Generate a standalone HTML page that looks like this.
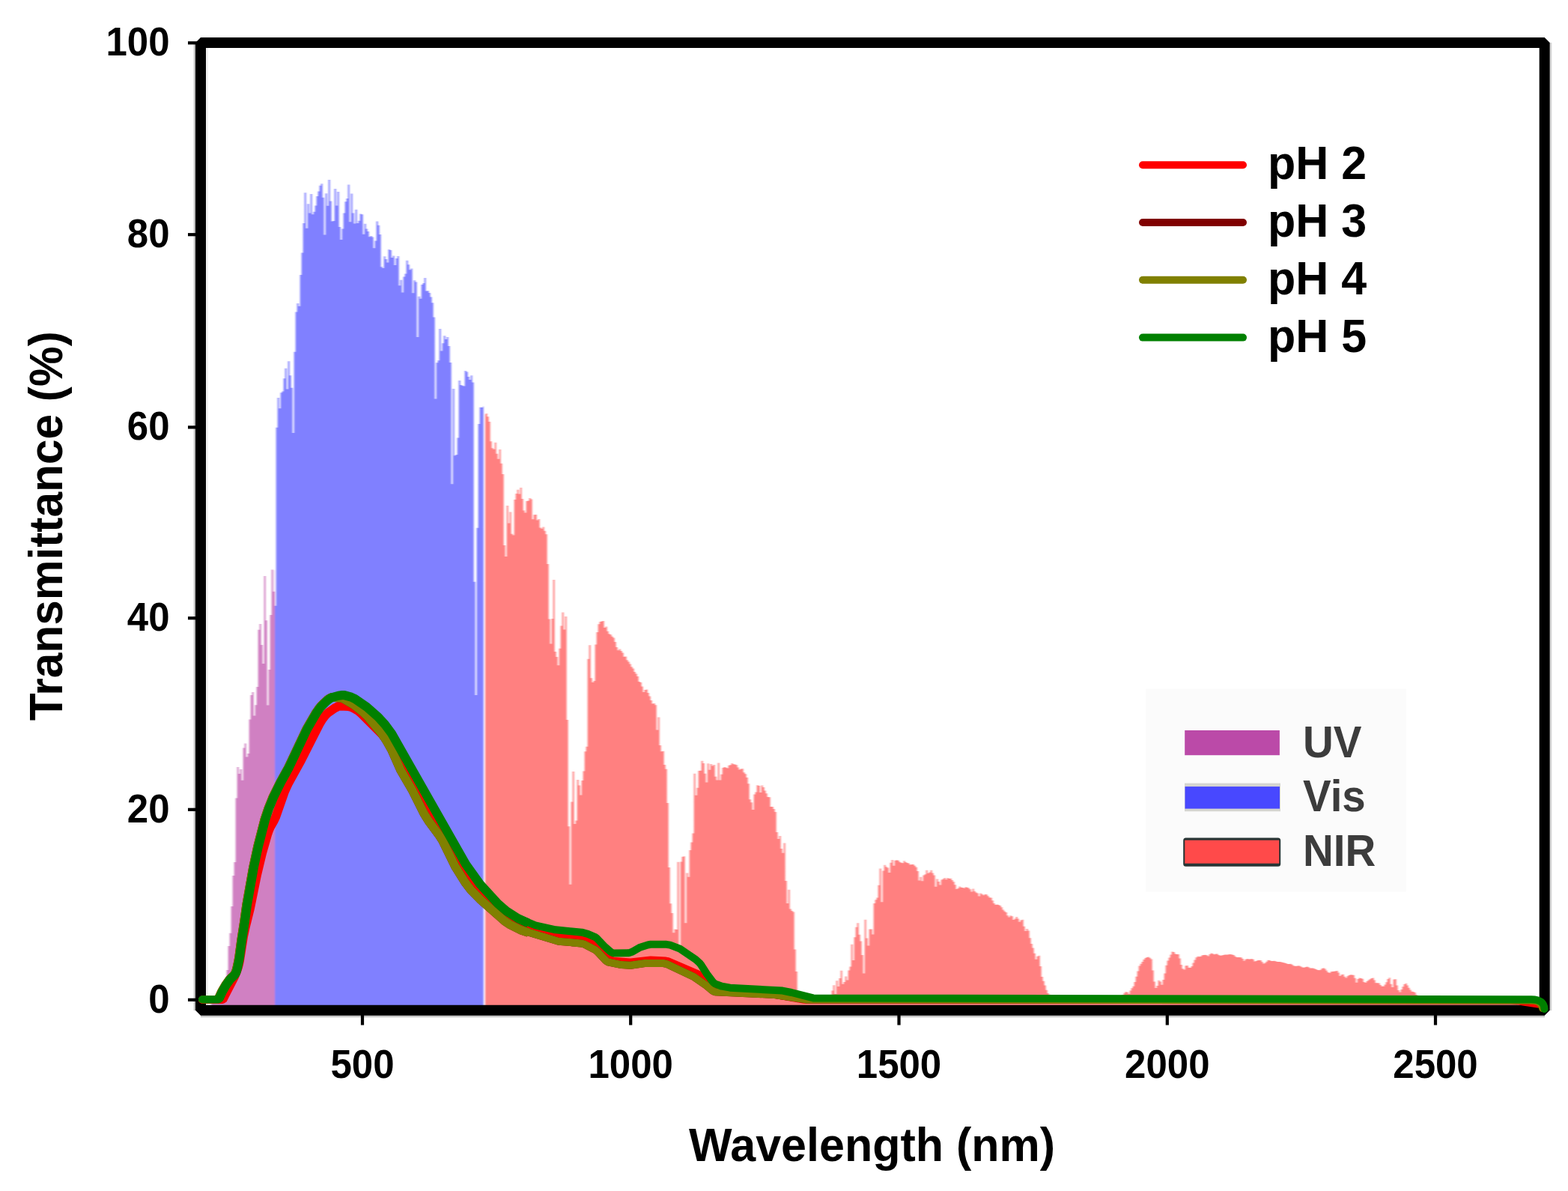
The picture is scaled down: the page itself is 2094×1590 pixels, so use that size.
<!DOCTYPE html>
<html><head><meta charset="utf-8"><title>Transmittance</title>
<style>
html,body{margin:0;padding:0;background:#fff;}
body{width:2094px;height:1590px;overflow:hidden;}
svg{display:block;}
text{font-family:"Liberation Sans",Arial,Helvetica,sans-serif;font-weight:bold;fill:#000;}
.t{font-size:51px;}
.ax{font-size:61px;}
.lg{font-size:61px;}
.lg2{font-size:56.5px;fill:#3c3c3c;}
</style></head>
<body>
<svg width="2094" height="1590" viewBox="0 0 2094 1590">
<defs><filter id="sb" x="-2%" y="-2%" width="104%" height="104%"><feGaussianBlur stdDeviation="0.9 0.5"/></filter></defs>
<g filter="url(#sb)">
<path d="M282.2 1342.0L282.20 1335.0L282.67 1335.0L282.67 1335.0L284.67 1335.0L284.67 1335.0L286.67 1335.0L286.67 1335.0L288.67 1335.0L288.67 1335.0L290.67 1335.0L290.67 1335.0L292.67 1335.0L292.67 1334.9L294.67 1334.9L294.67 1334.5L296.67 1334.5L296.67 1332.9L298.67 1332.9L298.67 1324.9L300.67 1324.9L300.67 1310.9L302.67 1310.9L302.67 1294.9L304.67 1294.9L304.67 1262.9L306.67 1262.9L306.67 1245.7L308.67 1245.7L308.67 1210.0L310.67 1210.0L310.67 1168.9L312.67 1168.9L312.67 1151.1L314.67 1151.1L314.67 1065.4L316.67 1065.4L316.67 1024.1L318.67 1024.1L318.67 1033.1L320.67 1033.1L320.67 1027.1L322.67 1027.1L322.67 1041.7L324.67 1041.7L324.67 998.4L326.67 998.4L326.67 992.5L328.67 992.5L328.67 1010.4L330.67 1010.4L330.67 1005.9L332.67 1005.9L332.67 960.5L334.67 960.5L334.67 928.1L336.67 928.1L336.67 924.1L338.67 924.1L338.67 955.4L340.67 955.4L340.67 941.3L342.67 941.3L342.67 916.9L344.67 916.9L344.67 840.7L346.67 840.7L346.67 833.1L348.67 833.1L348.67 860.9L350.67 860.9L350.67 886.0L352.67 886.0L352.67 769.1L354.67 769.1L354.67 828.3L356.67 828.3L356.67 941.5L358.67 941.5L358.67 894.1L360.67 894.1L360.67 821.1L362.67 821.1L362.67 760.6L364.67 760.6L364.67 789.7L366.67 789.7L366.67 761.2L367.00 761.2L367.0 1342.0Z" fill="#d080c2"/>
<path d="M367.0 1342.0L367.00 808.7L368.67 808.7L368.67 570.8L370.67 570.8L370.67 530.9L372.67 530.9L372.67 545.2L374.67 545.2L374.67 524.2L376.67 524.2L376.67 522.5L378.67 522.5L378.67 505.2L380.67 505.2L380.67 491.7L382.67 491.7L382.67 519.4L384.67 519.4L384.67 482.2L386.67 482.2L386.67 501.2L388.67 501.2L388.67 517.7L390.67 517.7L390.67 578.0L392.67 578.0L392.67 469.8L394.67 469.8L394.67 416.4L396.67 416.4L396.67 404.9L398.67 404.9L398.67 408.8L400.67 408.8L400.67 367.0L402.67 367.0L402.67 337.4L404.67 337.4L404.67 298.0L406.67 298.0L406.67 257.3L408.67 257.3L408.67 304.8L410.67 304.8L410.67 272.3L412.67 272.3L412.67 284.6L414.67 284.6L414.67 259.1L416.67 259.1L416.67 286.3L418.67 286.3L418.67 282.8L420.67 282.8L420.67 274.4L422.67 274.4L422.67 261.9L424.67 261.9L424.67 255.4L426.67 255.4L426.67 247.7L428.67 247.7L428.67 245.3L430.67 245.3L430.67 263.8L432.67 263.8L432.67 313.6L434.67 313.6L434.67 258.2L436.67 258.2L436.67 274.7L438.67 274.7L438.67 239.9L440.67 239.9L440.67 268.5L442.67 268.5L442.67 295.6L444.67 295.6L444.67 295.0L446.67 295.0L446.67 252.0L448.67 252.0L448.67 274.5L450.67 274.5L450.67 256.0L452.67 256.0L452.67 303.0L454.67 303.0L454.67 320.0L456.67 320.0L456.67 305.5L458.67 305.5L458.67 284.6L460.67 284.6L460.67 269.3L462.67 269.3L462.67 264.9L464.67 264.9L464.67 246.5L466.67 246.5L466.67 296.2L468.67 296.2L468.67 258.6L470.67 258.6L470.67 284.6L472.67 284.6L472.67 298.6L474.67 298.6L474.67 279.8L476.67 279.8L476.67 298.0L478.67 298.0L478.67 294.8L480.67 294.8L480.67 285.4L482.67 285.4L482.67 286.2L484.67 286.2L484.67 312.8L486.67 312.8L486.67 298.8L488.67 298.8L488.67 305.4L490.67 305.4L490.67 308.9L492.67 308.9L492.67 316.3L494.67 316.3L494.67 315.0L496.67 315.0L496.67 316.5L498.67 316.5L498.67 331.3L500.67 331.3L500.67 321.5L502.67 321.5L502.67 295.5L504.67 295.5L504.67 300.7L506.67 300.7L506.67 312.9L508.67 312.9L508.67 356.3L510.67 356.3L510.67 358.0L512.67 358.0L512.67 342.2L514.67 342.2L514.67 346.0L516.67 346.0L516.67 350.6L518.67 350.6L518.67 333.0L520.67 333.0L520.67 333.9L522.67 333.9L522.67 344.1L524.67 344.1L524.67 341.4L526.67 341.4L526.67 353.9L528.67 353.9L528.67 344.9L530.67 344.9L530.67 342.0L532.67 342.0L532.67 381.2L534.67 381.2L534.67 373.8L536.67 373.8L536.67 390.4L538.67 390.4L538.67 369.6L540.67 369.6L540.67 365.6L542.67 365.6L542.67 347.8L544.67 347.8L544.67 353.3L546.67 353.3L546.67 360.2L548.67 360.2L548.67 358.6L550.67 358.6L550.67 391.3L552.67 391.3L552.67 374.3L554.67 374.3L554.67 376.6L556.67 376.6L556.67 450.1L558.67 450.1L558.67 395.7L560.67 395.7L560.67 398.7L562.67 398.7L562.67 380.1L564.67 380.1L564.67 378.0L566.67 378.0L566.67 370.9L568.67 370.9L568.67 388.4L570.67 388.4L570.67 388.2L572.67 388.2L572.67 391.1L574.67 391.1L574.67 396.4L576.67 396.4L576.67 404.2L578.67 404.2L578.67 423.4L580.67 423.4L580.67 532.4L582.67 532.4L582.67 484.2L584.67 484.2L584.67 481.3L586.67 481.3L586.67 439.0L588.67 439.0L588.67 468.6L590.67 468.6L590.67 458.3L592.67 458.3L592.67 448.3L594.67 448.3L594.67 453.0L596.67 453.0L596.67 450.1L598.67 450.1L598.67 461.9L600.67 461.9L600.67 484.1L602.67 484.1L602.67 646.2L604.67 646.2L604.67 518.9L606.67 518.9L606.67 608.2L608.67 608.2L608.67 606.9L610.67 606.9L610.67 584.5L612.67 584.5L612.67 508.1L614.67 508.1L614.67 514.1L616.67 514.1L616.67 514.8L618.67 514.8L618.67 515.4L620.67 515.4L620.67 495.0L622.67 495.0L622.67 496.5L624.67 496.5L624.67 503.0L626.67 503.0L626.67 506.9L628.67 506.9L628.67 501.2L630.67 501.2L630.67 510.5L632.67 510.5L632.67 776.8L634.67 776.8L634.67 928.1L636.67 928.1L636.67 704.8L638.67 704.8L638.67 565.9L640.67 565.9L640.67 543.7L642.67 543.7L642.67 543.9L644.67 543.9L644.67 542.5L645.70 542.5L645.7 1342.0Z" fill="#8080ff"/>
<path d="M648.0 1342.0L648.00 553.3L648.67 553.3L648.67 552.1L650.67 552.1L650.67 556.2L652.67 556.2L652.67 562.9L654.67 562.9L654.67 589.2L656.67 589.2L656.67 598.2L658.67 598.2L658.67 599.8L660.67 599.8L660.67 590.8L662.67 590.8L662.67 605.8L664.67 605.8L664.67 612.8L666.67 612.8L666.67 600.1L668.67 600.1L668.67 618.7L670.67 618.7L670.67 633.0L672.67 633.0L672.67 728.1L674.67 728.1L674.67 743.0L676.67 743.0L676.67 674.9L678.67 674.9L678.67 698.4L680.67 698.4L680.67 683.5L682.67 683.5L682.67 712.8L684.67 712.8L684.67 714.6L686.67 714.6L686.67 667.0L688.67 667.0L688.67 659.1L690.67 659.1L690.67 653.7L692.67 653.7L692.67 659.5L694.67 659.5L694.67 651.0L696.67 651.0L696.67 666.0L698.67 666.0L698.67 681.4L700.67 681.4L700.67 684.6L702.67 684.6L702.67 669.0L704.67 669.0L704.67 668.4L706.67 668.4L706.67 664.9L708.67 664.9L708.67 666.4L710.67 666.4L710.67 693.2L712.67 693.2L712.67 687.2L714.67 687.2L714.67 686.9L716.67 686.9L716.67 694.5L718.67 694.5L718.67 693.0L720.67 693.0L720.67 704.4L722.67 704.4L722.67 705.7L724.67 705.7L724.67 703.6L726.67 703.6L726.67 708.7L728.67 708.7L728.67 713.3L730.67 713.3L730.67 753.0L732.67 753.0L732.67 826.5L734.67 826.5L734.67 859.4L736.67 859.4L736.67 826.0L738.67 826.0L738.67 774.0L740.67 774.0L740.67 869.9L742.67 869.9L742.67 877.1L744.67 877.1L744.67 888.2L746.67 888.2L746.67 865.8L748.67 865.8L748.67 835.5L750.67 835.5L750.67 817.5L752.67 817.5L752.67 840.6L754.67 840.6L754.67 823.0L756.67 823.0L756.67 960.9L758.67 960.9L758.67 1103.2L760.67 1103.2L760.67 1180.8L762.67 1180.8L762.67 1070.6L764.67 1070.6L764.67 1029.9L766.67 1029.9L766.67 1100.0L768.67 1100.0L768.67 1095.5L770.67 1095.5L770.67 1041.0L772.67 1041.0L772.67 1048.5L774.67 1048.5L774.67 1061.6L776.67 1061.6L776.67 1042.0L778.67 1042.0L778.67 1029.4L780.67 1029.4L780.67 1003.2L782.67 1003.2L782.67 996.8L784.67 996.8L784.67 879.8L786.67 879.8L786.67 861.2L788.67 861.2L788.67 905.3L790.67 905.3L790.67 910.9L792.67 910.9L792.67 909.0L794.67 909.0L794.67 860.6L796.67 860.6L796.67 844.0L798.67 844.0L798.67 833.2L800.67 833.2L800.67 829.9L802.67 829.9L802.67 829.5L804.67 829.5L804.67 829.0L806.67 829.0L806.67 838.0L808.67 838.0L808.67 836.4L810.67 836.4L810.67 842.7L812.67 842.7L812.67 846.3L814.67 846.3L814.67 847.2L816.67 847.2L816.67 849.8L818.67 849.8L818.67 851.4L820.67 851.4L820.67 857.1L822.67 857.1L822.67 864.1L824.67 864.1L824.67 868.2L826.67 868.2L826.67 866.5L828.67 866.5L828.67 868.9L830.67 868.9L830.67 871.5L832.67 871.5L832.67 876.7L834.67 876.7L834.67 876.6L836.67 876.6L836.67 881.2L838.67 881.2L838.67 883.5L840.67 883.5L840.67 886.4L842.67 886.4L842.67 890.3L844.67 890.3L844.67 892.6L846.67 892.6L846.67 897.0L848.67 897.0L848.67 899.5L850.67 899.5L850.67 903.1L852.67 903.1L852.67 909.9L854.67 909.9L854.67 910.9L856.67 910.9L856.67 916.5L858.67 916.5L858.67 923.9L860.67 923.9L860.67 921.0L862.67 921.0L862.67 920.5L864.67 920.5L864.67 925.1L866.67 925.1L866.67 929.6L868.67 929.6L868.67 934.9L870.67 934.9L870.67 939.5L872.67 939.5L872.67 939.0L874.67 939.0L874.67 941.3L876.67 941.3L876.67 974.4L878.67 974.4L878.67 957.4L880.67 957.4L880.67 994.9L882.67 994.9L882.67 1003.3L884.67 1003.3L884.67 1002.8L886.67 1002.8L886.67 1021.0L888.67 1021.0L888.67 1026.8L890.67 1026.8L890.67 1072.1L892.67 1072.1L892.67 1158.0L894.67 1158.0L894.67 1206.3L896.67 1206.3L896.67 1219.1L898.67 1219.1L898.67 1245.3L900.67 1245.3L900.67 1240.4L902.67 1240.4L902.67 1240.9L904.67 1240.9L904.67 1150.7L906.67 1150.7L906.67 1265.4L908.67 1265.4L908.67 1150.4L910.67 1150.4L910.67 1143.8L912.67 1143.8L912.67 1143.2L914.67 1143.2L914.67 1232.2L916.67 1232.2L916.67 1165.6L918.67 1165.6L918.67 1170.8L920.67 1170.8L920.67 1135.1L922.67 1135.1L922.67 1124.4L924.67 1124.4L924.67 1112.5L926.67 1112.5L926.67 1032.7L928.67 1032.7L928.67 1061.8L930.67 1061.8L930.67 1051.7L932.67 1051.7L932.67 1029.0L934.67 1029.0L934.67 1028.8L936.67 1028.8L936.67 1015.7L938.67 1015.7L938.67 1019.0L940.67 1019.0L940.67 1032.8L942.67 1032.8L942.67 1044.5L944.67 1044.5L944.67 1019.2L946.67 1019.2L946.67 1027.8L948.67 1027.8L948.67 1020.0L950.67 1020.0L950.67 1022.5L952.67 1022.5L952.67 1020.9L954.67 1020.9L954.67 1036.7L956.67 1036.7L956.67 1041.6L958.67 1041.6L958.67 1018.6L960.67 1018.6L960.67 1041.5L962.67 1041.5L962.67 1033.8L964.67 1033.8L964.67 1025.1L966.67 1025.1L966.67 1024.0L968.67 1024.0L968.67 1024.7L970.67 1024.7L970.67 1025.4L972.67 1025.4L972.67 1021.8L974.67 1021.8L974.67 1021.2L976.67 1021.2L976.67 1018.9L978.67 1018.9L978.67 1020.2L980.67 1020.2L980.67 1020.5L982.67 1020.5L982.67 1021.2L984.67 1021.2L984.67 1024.4L986.67 1024.4L986.67 1027.5L988.67 1027.5L988.67 1026.6L990.67 1026.6L990.67 1026.3L992.67 1026.3L992.67 1031.3L994.67 1031.3L994.67 1033.3L996.67 1033.3L996.67 1037.9L998.67 1037.9L998.67 1046.2L1000.67 1046.2L1000.67 1067.2L1002.67 1067.2L1002.67 1071.2L1004.67 1071.2L1004.67 1080.9L1006.67 1080.9L1006.67 1060.4L1008.67 1060.4L1008.67 1057.4L1010.67 1057.4L1010.67 1048.3L1012.67 1048.3L1012.67 1049.1L1014.67 1049.1L1014.67 1057.9L1016.67 1057.9L1016.67 1048.5L1018.67 1048.5L1018.67 1051.1L1020.67 1051.1L1020.67 1055.4L1022.67 1055.4L1022.67 1059.3L1024.67 1059.3L1024.67 1064.1L1026.67 1064.1L1026.67 1064.2L1028.67 1064.2L1028.67 1077.1L1030.67 1077.1L1030.67 1077.0L1032.67 1077.0L1032.67 1080.0L1034.67 1080.0L1034.67 1084.1L1036.67 1084.1L1036.67 1110.9L1038.67 1110.9L1038.67 1119.9L1040.67 1119.9L1040.67 1115.9L1042.67 1115.9L1042.67 1132.9L1044.67 1132.9L1044.67 1138.7L1046.67 1138.7L1046.67 1125.4L1048.67 1125.4L1048.67 1175.9L1050.67 1175.9L1050.67 1206.1L1052.67 1206.1L1052.67 1187.7L1054.67 1187.7L1054.67 1213.4L1056.67 1213.4L1056.67 1216.1L1058.67 1216.1L1058.67 1217.4L1060.67 1217.4L1060.67 1267.5L1062.67 1267.5L1062.67 1297.0L1064.67 1297.0L1064.67 1324.2L1066.67 1324.2L1066.67 1334.5L1068.67 1334.5L1068.67 1335.0L1070.67 1335.0L1070.67 1335.0L1072.67 1335.0L1072.67 1335.0L1074.67 1335.0L1074.67 1335.0L1076.67 1335.0L1076.67 1335.0L1078.67 1335.0L1078.67 1335.0L1080.67 1335.0L1080.67 1334.9L1082.67 1334.9L1082.67 1334.8L1084.67 1334.8L1084.67 1334.4L1086.67 1334.4L1086.67 1335.0L1088.67 1335.0L1088.67 1335.0L1090.67 1335.0L1090.67 1334.9L1092.67 1334.9L1092.67 1334.6L1094.67 1334.6L1094.67 1334.7L1096.67 1334.7L1096.67 1334.9L1098.67 1334.9L1098.67 1334.2L1100.67 1334.2L1100.67 1334.5L1102.67 1334.5L1102.67 1333.5L1104.67 1333.5L1104.67 1333.9L1106.67 1333.9L1106.67 1334.1L1108.67 1334.1L1108.67 1333.3L1110.67 1333.3L1110.67 1322.5L1112.67 1322.5L1112.67 1315.3L1114.67 1315.3L1114.67 1326.9L1116.67 1326.9L1116.67 1309.2L1118.67 1309.2L1118.67 1317.0L1120.67 1317.0L1120.67 1305.9L1122.67 1305.9L1122.67 1295.8L1124.67 1295.8L1124.67 1313.8L1126.67 1313.8L1126.67 1310.9L1128.67 1310.9L1128.67 1303.4L1130.67 1303.4L1130.67 1308.4L1132.67 1308.4L1132.67 1295.6L1134.67 1295.6L1134.67 1290.4L1136.67 1290.4L1136.67 1260.8L1138.67 1260.8L1138.67 1281.9L1140.67 1281.9L1140.67 1251.3L1142.67 1251.3L1142.67 1237.7L1144.67 1237.7L1144.67 1232.3L1146.67 1232.3L1146.67 1247.7L1148.67 1247.7L1148.67 1256.5L1150.67 1256.5L1150.67 1275.0L1152.67 1275.0L1152.67 1299.5L1154.67 1299.5L1154.67 1227.8L1156.67 1227.8L1156.67 1252.4L1158.67 1252.4L1158.67 1262.6L1160.67 1262.6L1160.67 1240.5L1162.67 1240.5L1162.67 1240.6L1164.67 1240.6L1164.67 1247.4L1166.67 1247.4L1166.67 1206.1L1168.67 1206.1L1168.67 1201.2L1170.67 1201.2L1170.67 1198.4L1172.67 1198.4L1172.67 1181.7L1174.67 1181.7L1174.67 1159.6L1176.67 1159.6L1176.67 1204.2L1178.67 1204.2L1178.67 1162.6L1180.67 1162.6L1180.67 1154.8L1182.67 1154.8L1182.67 1157.3L1184.67 1157.3L1184.67 1158.6L1186.67 1158.6L1186.67 1165.1L1188.67 1165.1L1188.67 1151.8L1190.67 1151.8L1190.67 1147.9L1192.67 1147.9L1192.67 1155.7L1194.67 1155.7L1194.67 1148.7L1196.67 1148.7L1196.67 1148.2L1198.67 1148.2L1198.67 1148.7L1200.67 1148.7L1200.67 1150.8L1202.67 1150.8L1202.67 1151.8L1204.67 1151.8L1204.67 1152.2L1206.67 1152.2L1206.67 1149.3L1208.67 1149.3L1208.67 1151.0L1210.67 1151.0L1210.67 1152.0L1212.67 1152.0L1212.67 1152.4L1214.67 1152.4L1214.67 1154.6L1216.67 1154.6L1216.67 1153.9L1218.67 1153.9L1218.67 1154.0L1220.67 1154.0L1220.67 1155.7L1222.67 1155.7L1222.67 1157.8L1224.67 1157.8L1224.67 1163.0L1226.67 1163.0L1226.67 1175.6L1228.67 1175.6L1228.67 1170.8L1230.67 1170.8L1230.67 1176.3L1232.67 1176.3L1232.67 1168.6L1234.67 1168.6L1234.67 1167.3L1236.67 1167.3L1236.67 1161.8L1238.67 1161.8L1238.67 1165.8L1240.67 1165.8L1240.67 1164.5L1242.67 1164.5L1242.67 1161.7L1244.67 1161.7L1244.67 1165.4L1246.67 1165.4L1246.67 1168.5L1248.67 1168.5L1248.67 1183.8L1250.67 1183.8L1250.67 1173.6L1252.67 1173.6L1252.67 1176.9L1254.67 1176.9L1254.67 1181.6L1256.67 1181.6L1256.67 1174.6L1258.67 1174.6L1258.67 1173.6L1260.67 1173.6L1260.67 1171.9L1262.67 1171.9L1262.67 1174.3L1264.67 1174.3L1264.67 1172.0L1266.67 1172.0L1266.67 1172.9L1268.67 1172.9L1268.67 1172.8L1270.67 1172.8L1270.67 1175.0L1272.67 1175.0L1272.67 1177.2L1274.67 1177.2L1274.67 1181.3L1276.67 1181.3L1276.67 1187.1L1278.67 1187.1L1278.67 1185.7L1280.67 1185.7L1280.67 1183.6L1282.67 1183.6L1282.67 1184.8L1284.67 1184.8L1284.67 1184.9L1286.67 1184.9L1286.67 1185.7L1288.67 1185.7L1288.67 1184.3L1290.67 1184.3L1290.67 1184.7L1292.67 1184.7L1292.67 1185.6L1294.67 1185.6L1294.67 1187.3L1296.67 1187.3L1296.67 1190.5L1298.67 1190.5L1298.67 1186.6L1300.67 1186.6L1300.67 1189.8L1302.67 1189.8L1302.67 1191.6L1304.67 1191.6L1304.67 1192.6L1306.67 1192.6L1306.67 1196.5L1308.67 1196.5L1308.67 1192.4L1310.67 1192.4L1310.67 1193.7L1312.67 1193.7L1312.67 1195.2L1314.67 1195.2L1314.67 1193.7L1316.67 1193.7L1316.67 1194.2L1318.67 1194.2L1318.67 1196.2L1320.67 1196.2L1320.67 1198.3L1322.67 1198.3L1322.67 1198.5L1324.67 1198.5L1324.67 1202.3L1326.67 1202.3L1326.67 1205.9L1328.67 1205.9L1328.67 1208.1L1330.67 1208.1L1330.67 1207.6L1332.67 1207.6L1332.67 1207.9L1334.67 1207.9L1334.67 1208.9L1336.67 1208.9L1336.67 1211.2L1338.67 1211.2L1338.67 1214.5L1340.67 1214.5L1340.67 1216.4L1342.67 1216.4L1342.67 1217.9L1344.67 1217.9L1344.67 1222.2L1346.67 1222.2L1346.67 1224.6L1348.67 1224.6L1348.67 1222.2L1350.67 1222.2L1350.67 1223.2L1352.67 1223.2L1352.67 1228.1L1354.67 1228.1L1354.67 1226.5L1356.67 1226.5L1356.67 1224.0L1358.67 1224.0L1358.67 1226.4L1360.67 1226.4L1360.67 1230.8L1362.67 1230.8L1362.67 1228.4L1364.67 1228.4L1364.67 1227.8L1366.67 1227.8L1366.67 1236.7L1368.67 1236.7L1368.67 1243.1L1370.67 1243.1L1370.67 1240.1L1372.67 1240.1L1372.67 1242.4L1374.67 1242.4L1374.67 1252.3L1376.67 1252.3L1376.67 1260.1L1378.67 1260.1L1378.67 1265.4L1380.67 1265.4L1380.67 1272.7L1382.67 1272.7L1382.67 1280.8L1384.67 1280.8L1384.67 1276.8L1386.67 1276.8L1386.67 1275.8L1388.67 1275.8L1388.67 1289.9L1390.67 1289.9L1390.67 1304.1L1392.67 1304.1L1392.67 1309.7L1394.67 1309.7L1394.67 1315.4L1396.67 1315.4L1396.67 1321.7L1398.67 1321.7L1398.67 1325.9L1400.67 1325.9L1400.67 1327.8L1402.67 1327.8L1402.67 1330.0L1404.67 1330.0L1404.67 1332.3L1406.67 1332.3L1406.67 1333.5L1408.67 1333.5L1408.67 1334.3L1410.67 1334.3L1410.67 1334.2L1412.67 1334.2L1412.67 1334.2L1414.67 1334.2L1414.67 1334.7L1416.67 1334.7L1416.67 1335.0L1418.67 1335.0L1418.67 1335.0L1420.67 1335.0L1420.67 1335.0L1422.67 1335.0L1422.67 1335.0L1424.67 1335.0L1424.67 1335.0L1426.67 1335.0L1426.67 1335.0L1428.67 1335.0L1428.67 1335.0L1430.67 1335.0L1430.67 1335.0L1432.67 1335.0L1432.67 1335.0L1434.67 1335.0L1434.67 1335.0L1436.67 1335.0L1436.67 1335.0L1438.67 1335.0L1438.67 1335.0L1440.67 1335.0L1440.67 1335.0L1442.67 1335.0L1442.67 1335.0L1444.67 1335.0L1444.67 1335.0L1446.67 1335.0L1446.67 1335.0L1448.67 1335.0L1448.67 1335.0L1450.67 1335.0L1450.67 1335.0L1452.67 1335.0L1452.67 1334.9L1454.67 1334.9L1454.67 1335.0L1456.67 1335.0L1456.67 1334.9L1458.67 1334.9L1458.67 1334.9L1460.67 1334.9L1460.67 1334.9L1462.67 1334.9L1462.67 1334.9L1464.67 1334.9L1464.67 1334.9L1466.67 1334.9L1466.67 1335.0L1468.67 1335.0L1468.67 1335.0L1470.67 1335.0L1470.67 1335.0L1472.67 1335.0L1472.67 1335.0L1474.67 1335.0L1474.67 1335.0L1476.67 1335.0L1476.67 1335.0L1478.67 1335.0L1478.67 1334.8L1480.67 1334.8L1480.67 1334.7L1482.67 1334.7L1482.67 1334.5L1484.67 1334.5L1484.67 1334.4L1486.67 1334.4L1486.67 1334.5L1488.67 1334.5L1488.67 1334.1L1490.67 1334.1L1490.67 1333.0L1492.67 1333.0L1492.67 1332.6L1494.67 1332.6L1494.67 1332.7L1496.67 1332.7L1496.67 1330.6L1498.67 1330.6L1498.67 1327.9L1500.67 1327.9L1500.67 1325.7L1502.67 1325.7L1502.67 1323.9L1504.67 1323.9L1504.67 1324.8L1506.67 1324.8L1506.67 1326.9L1508.67 1326.9L1508.67 1322.6L1510.67 1322.6L1510.67 1319.2L1512.67 1319.2L1512.67 1316.7L1514.67 1316.7L1514.67 1311.1L1516.67 1311.1L1516.67 1303.7L1518.67 1303.7L1518.67 1296.6L1520.67 1296.6L1520.67 1289.6L1522.67 1289.6L1522.67 1286.7L1524.67 1286.7L1524.67 1283.9L1526.67 1283.9L1526.67 1281.1L1528.67 1281.1L1528.67 1278.9L1530.67 1278.9L1530.67 1278.0L1532.67 1278.0L1532.67 1277.6L1534.67 1277.6L1534.67 1278.7L1536.67 1278.7L1536.67 1280.4L1538.67 1280.4L1538.67 1295.5L1540.67 1295.5L1540.67 1310.4L1542.67 1310.4L1542.67 1318.9L1544.67 1318.9L1544.67 1315.9L1546.67 1315.9L1546.67 1308.8L1548.67 1308.8L1548.67 1310.5L1550.67 1310.5L1550.67 1314.7L1552.67 1314.7L1552.67 1308.1L1554.67 1308.1L1554.67 1299.4L1556.67 1299.4L1556.67 1288.7L1558.67 1288.7L1558.67 1282.6L1560.67 1282.6L1560.67 1278.6L1562.67 1278.6L1562.67 1274.4L1564.67 1274.4L1564.67 1270.5L1566.67 1270.5L1566.67 1271.0L1568.67 1271.0L1568.67 1273.4L1570.67 1273.4L1570.67 1274.1L1572.67 1274.1L1572.67 1273.9L1574.67 1273.9L1574.67 1279.4L1576.67 1279.4L1576.67 1287.9L1578.67 1287.9L1578.67 1293.3L1580.67 1293.3L1580.67 1294.4L1582.67 1294.4L1582.67 1289.2L1584.67 1289.2L1584.67 1289.0L1586.67 1289.0L1586.67 1291.7L1588.67 1291.7L1588.67 1292.0L1590.67 1292.0L1590.67 1289.9L1592.67 1289.9L1592.67 1285.6L1594.67 1285.6L1594.67 1281.6L1596.67 1281.6L1596.67 1278.2L1598.67 1278.2L1598.67 1276.7L1600.67 1276.7L1600.67 1277.2L1602.67 1277.2L1602.67 1276.7L1604.67 1276.7L1604.67 1275.3L1606.67 1275.3L1606.67 1274.9L1608.67 1274.9L1608.67 1274.7L1610.67 1274.7L1610.67 1275.2L1612.67 1275.2L1612.67 1276.4L1614.67 1276.4L1614.67 1273.9L1616.67 1273.9L1616.67 1272.5L1618.67 1272.5L1618.67 1273.3L1620.67 1273.3L1620.67 1274.3L1622.67 1274.3L1622.67 1273.6L1624.67 1273.6L1624.67 1273.5L1626.67 1273.5L1626.67 1275.0L1628.67 1275.0L1628.67 1275.8L1630.67 1275.8L1630.67 1275.4L1632.67 1275.4L1632.67 1275.0L1634.67 1275.0L1634.67 1274.6L1636.67 1274.6L1636.67 1274.5L1638.67 1274.5L1638.67 1274.4L1640.67 1274.4L1640.67 1274.1L1642.67 1274.1L1642.67 1274.0L1644.67 1274.0L1644.67 1274.4L1646.67 1274.4L1646.67 1275.0L1648.67 1275.0L1648.67 1276.8L1650.67 1276.8L1650.67 1278.1L1652.67 1278.1L1652.67 1278.0L1654.67 1278.0L1654.67 1278.1L1656.67 1278.1L1656.67 1278.3L1658.67 1278.3L1658.67 1280.1L1660.67 1280.1L1660.67 1282.7L1662.67 1282.7L1662.67 1280.7L1664.67 1280.7L1664.67 1280.0L1666.67 1280.0L1666.67 1280.4L1668.67 1280.4L1668.67 1280.5L1670.67 1280.5L1670.67 1280.1L1672.67 1280.1L1672.67 1280.7L1674.67 1280.7L1674.67 1283.4L1676.67 1283.4L1676.67 1283.0L1678.67 1283.0L1678.67 1281.9L1680.67 1281.9L1680.67 1281.9L1682.67 1281.9L1682.67 1281.9L1684.67 1281.9L1684.67 1284.2L1686.67 1284.2L1686.67 1286.5L1688.67 1286.5L1688.67 1285.4L1690.67 1285.4L1690.67 1283.7L1692.67 1283.7L1692.67 1281.8L1694.67 1281.8L1694.67 1282.0L1696.67 1282.0L1696.67 1283.1L1698.67 1283.1L1698.67 1283.1L1700.67 1283.1L1700.67 1282.8L1702.67 1282.8L1702.67 1283.3L1704.67 1283.3L1704.67 1284.1L1706.67 1284.1L1706.67 1284.1L1708.67 1284.1L1708.67 1284.1L1710.67 1284.1L1710.67 1284.6L1712.67 1284.6L1712.67 1285.1L1714.67 1285.1L1714.67 1285.6L1716.67 1285.6L1716.67 1286.1L1718.67 1286.1L1718.67 1287.0L1720.67 1287.0L1720.67 1286.9L1722.67 1286.9L1722.67 1286.7L1724.67 1286.7L1724.67 1287.7L1726.67 1287.7L1726.67 1289.2L1728.67 1289.2L1728.67 1289.7L1730.67 1289.7L1730.67 1289.7L1732.67 1289.7L1732.67 1289.3L1734.67 1289.3L1734.67 1289.4L1736.67 1289.4L1736.67 1290.6L1738.67 1290.6L1738.67 1291.5L1740.67 1291.5L1740.67 1291.8L1742.67 1291.8L1742.67 1291.0L1744.67 1291.0L1744.67 1290.5L1746.67 1290.5L1746.67 1291.3L1748.67 1291.3L1748.67 1292.4L1750.67 1292.4L1750.67 1292.5L1752.67 1292.5L1752.67 1292.5L1754.67 1292.5L1754.67 1293.3L1756.67 1293.3L1756.67 1294.0L1758.67 1294.0L1758.67 1294.9L1760.67 1294.9L1760.67 1295.3L1762.67 1295.3L1762.67 1294.8L1764.67 1294.8L1764.67 1293.1L1766.67 1293.1L1766.67 1292.2L1768.67 1292.2L1768.67 1293.6L1770.67 1293.6L1770.67 1295.7L1772.67 1295.7L1772.67 1297.9L1774.67 1297.9L1774.67 1298.9L1776.67 1298.9L1776.67 1297.3L1778.67 1297.3L1778.67 1297.0L1780.67 1297.0L1780.67 1296.8L1782.67 1296.8L1782.67 1296.4L1784.67 1296.4L1784.67 1296.1L1786.67 1296.1L1786.67 1298.6L1788.67 1298.6L1788.67 1303.0L1790.67 1303.0L1790.67 1301.3L1792.67 1301.3L1792.67 1300.7L1794.67 1300.7L1794.67 1303.7L1796.67 1303.7L1796.67 1305.4L1798.67 1305.4L1798.67 1303.2L1800.67 1303.2L1800.67 1302.1L1802.67 1302.1L1802.67 1301.3L1804.67 1301.3L1804.67 1301.4L1806.67 1301.4L1806.67 1301.7L1808.67 1301.7L1808.67 1305.8L1810.67 1305.8L1810.67 1311.8L1812.67 1311.8L1812.67 1307.1L1814.67 1307.1L1814.67 1305.4L1816.67 1305.4L1816.67 1305.9L1818.67 1305.9L1818.67 1306.8L1820.67 1306.8L1820.67 1311.1L1822.67 1311.1L1822.67 1312.0L1824.67 1312.0L1824.67 1309.9L1826.67 1309.9L1826.67 1308.6L1828.67 1308.6L1828.67 1307.3L1830.67 1307.3L1830.67 1306.0L1832.67 1306.0L1832.67 1305.5L1834.67 1305.5L1834.67 1308.4L1836.67 1308.4L1836.67 1312.2L1838.67 1312.2L1838.67 1312.3L1840.67 1312.3L1840.67 1312.6L1842.67 1312.6L1842.67 1315.0L1844.67 1315.0L1844.67 1316.7L1846.67 1316.7L1846.67 1316.7L1848.67 1316.7L1848.67 1314.4L1850.67 1314.4L1850.67 1311.3L1852.67 1311.3L1852.67 1306.9L1854.67 1306.9L1854.67 1305.2L1856.67 1305.2L1856.67 1313.7L1858.67 1313.7L1858.67 1317.9L1860.67 1317.9L1860.67 1307.5L1862.67 1307.5L1862.67 1307.2L1864.67 1307.2L1864.67 1315.4L1866.67 1315.4L1866.67 1321.9L1868.67 1321.9L1868.67 1324.5L1870.67 1324.5L1870.67 1320.9L1872.67 1320.9L1872.67 1317.2L1874.67 1317.2L1874.67 1314.0L1876.67 1314.0L1876.67 1312.8L1878.67 1312.8L1878.67 1315.4L1880.67 1315.4L1880.67 1318.8L1882.67 1318.8L1882.67 1321.5L1884.67 1321.5L1884.67 1323.8L1886.67 1323.8L1886.67 1323.9L1888.67 1323.9L1888.67 1325.0L1890.67 1325.0L1890.67 1328.1L1892.67 1328.1L1892.67 1330.1L1894.67 1330.1L1894.67 1330.9L1896.67 1330.9L1896.67 1331.8L1898.67 1331.8L1898.67 1332.5L1900.67 1332.5L1900.67 1332.8L1902.67 1332.8L1902.67 1331.9L1904.67 1331.9L1904.67 1330.4L1906.67 1330.4L1906.67 1330.7L1908.67 1330.7L1908.67 1332.7L1910.67 1332.7L1910.67 1333.7L1912.67 1333.7L1912.67 1333.5L1914.67 1333.5L1914.67 1333.8L1916.67 1333.8L1916.67 1334.5L1918.67 1334.5L1918.67 1334.7L1920.67 1334.7L1920.67 1334.7L1922.67 1334.7L1922.67 1334.9L1924.67 1334.9L1924.67 1335.0L1926.67 1335.0L1926.67 1335.0L1928.67 1335.0L1928.67 1335.0L1930.67 1335.0L1930.67 1335.0L1932.67 1335.0L1932.67 1335.0L1934.67 1335.0L1934.67 1335.0L1936.67 1335.0L1936.67 1335.0L1938.67 1335.0L1938.67 1335.0L1940.67 1335.0L1940.67 1335.0L1942.67 1335.0L1942.67 1335.0L1944.67 1335.0L1944.67 1335.0L1946.67 1335.0L1946.67 1335.0L1948.67 1335.0L1948.67 1335.0L1950.67 1335.0L1950.67 1335.0L1952.67 1335.0L1952.67 1335.0L1954.67 1335.0L1954.67 1335.0L1956.67 1335.0L1956.67 1335.0L1958.67 1335.0L1958.67 1335.0L1960.67 1335.0L1960.67 1335.0L1962.67 1335.0L1962.67 1335.0L1964.67 1335.0L1964.67 1335.0L1966.67 1335.0L1966.67 1335.0L1968.67 1335.0L1968.67 1335.0L1970.67 1335.0L1970.67 1335.0L1972.67 1335.0L1972.67 1335.0L1974.67 1335.0L1974.67 1335.0L1976.67 1335.0L1976.67 1335.0L1978.67 1335.0L1978.67 1335.0L1980.67 1335.0L1980.67 1335.0L1982.67 1335.0L1982.67 1335.0L1984.67 1335.0L1984.67 1335.0L1986.67 1335.0L1986.67 1335.0L1988.67 1335.0L1988.67 1335.0L1990.67 1335.0L1990.67 1335.0L1992.67 1335.0L1992.67 1335.0L1994.67 1335.0L1994.67 1335.0L1996.67 1335.0L1996.67 1335.0L1998.67 1335.0L1998.67 1335.0L2000.67 1335.0L2000.67 1335.0L2002.67 1335.0L2002.67 1335.0L2004.67 1335.0L2004.67 1335.0L2006.67 1335.0L2006.67 1335.0L2008.67 1335.0L2008.67 1335.0L2010.67 1335.0L2010.67 1335.0L2012.67 1335.0L2012.67 1335.0L2014.67 1335.0L2014.67 1335.0L2016.67 1335.0L2016.67 1335.0L2018.67 1335.0L2018.67 1335.0L2020.67 1335.0L2020.67 1335.0L2022.67 1335.0L2022.67 1335.0L2024.67 1335.0L2024.67 1335.0L2026.67 1335.0L2026.67 1335.0L2027.00 1335.0L2027.0 1342.0Z" fill="#ff8080"/>
</g>
<rect x="258.8" y="57" width="2.4" height="1292" fill="#bdbdbd"/>
<rect x="275" y="64" width="3" height="1278" fill="#efefef"/>
<rect x="2069.7" y="57" width="2.6" height="1292" fill="#d4d4d4"/>
<rect x="268" y="1355.6" width="1795" height="2.6" fill="#c8c8c8"/>
<rect x="268" y="57" width="1794.7" height="1291.7" fill="none" stroke="#000" stroke-width="14" stroke-linejoin="bevel"/>
<rect x="251" y="1332.7" width="12" height="4.2" fill="#000"/>
<text transform="translate(226.5 1351.6) scale(1 1.035)" text-anchor="end" class="t">0</text>
<rect x="251" y="1078.7" width="12" height="4.2" fill="#000"/>
<text transform="translate(226.5 1097.6) scale(1 1.035)" text-anchor="end" class="t">20</text>
<rect x="251" y="823.1" width="12" height="4.2" fill="#000"/>
<text transform="translate(226.5 842.0) scale(1 1.035)" text-anchor="end" class="t">40</text>
<rect x="251" y="568.3" width="12" height="4.2" fill="#000"/>
<text transform="translate(226.5 587.2) scale(1 1.035)" text-anchor="end" class="t">60</text>
<rect x="251" y="311.1" width="12" height="4.2" fill="#000"/>
<text transform="translate(226.5 330.0) scale(1 1.035)" text-anchor="end" class="t">80</text>
<rect x="251" y="55.2" width="12" height="4.2" fill="#000"/>
<text transform="translate(226.5 74.1) scale(1 1.035)" text-anchor="end" class="t">100</text>
<rect x="481.9" y="1352" width="4.2" height="16.5" fill="#000"/>
<text transform="translate(484.0 1438.5) scale(1 1.035)" text-anchor="middle" class="t">500</text>
<rect x="840.1" y="1352" width="4.2" height="16.5" fill="#000"/>
<text transform="translate(842.2 1438.5) scale(1 1.035)" text-anchor="middle" class="t">1000</text>
<rect x="1198.4" y="1352" width="4.2" height="16.5" fill="#000"/>
<text transform="translate(1200.5 1438.5) scale(1 1.035)" text-anchor="middle" class="t">1500</text>
<rect x="1556.7" y="1352" width="4.2" height="16.5" fill="#000"/>
<text transform="translate(1558.8 1438.5) scale(1 1.035)" text-anchor="middle" class="t">2000</text>
<rect x="1914.9" y="1352" width="4.2" height="16.5" fill="#000"/>
<text transform="translate(1917.0 1438.5) scale(1 1.035)" text-anchor="middle" class="t">2500</text>
<path d="M270.0 1335.0 L297.0 1335.0 L298.0 1334.4 L299.0 1332.7 L303.0 1323.0 L312.0 1306.0 L315.0 1299.3 L317.0 1293.9 L319.0 1287.1 L320.0 1282.3 L325.0 1250.6 L328.0 1236.6 L334.0 1212.2 L343.0 1168.0 L350.0 1138.8 L357.0 1114.3 L359.0 1108.5 L361.0 1103.9 L366.0 1095.2 L368.0 1091.0 L380.0 1056.7 L385.0 1045.8 L402.0 1015.1 L427.0 965.8 L430.0 960.8 L434.0 955.6 L438.0 951.6 L447.0 945.3 L451.0 943.3 L454.0 942.4 L465.0 943.0 L468.0 943.6 L473.0 945.8 L479.0 949.4 L483.0 952.9 L511.0 981.1 L521.0 993.0 L524.0 995.8 L527.0 998.2 L529.0 1000.3 L531.0 1003.3 L534.0 1009.3 L542.0 1028.0 L558.0 1054.6 L576.0 1089.4 L596.0 1120.1 L616.0 1157.2 L632.0 1180.9 L641.0 1191.9 L674.0 1222.4 L680.0 1226.8 L697.0 1235.7 L744.0 1249.4 L777.0 1252.2 L783.0 1253.8 L792.0 1257.9 L795.0 1259.7 L797.0 1261.3 L807.0 1273.1 L815.0 1280.5 L817.0 1281.9 L819.0 1282.8 L842.0 1284.5 L869.0 1281.5 L889.0 1282.5 L892.0 1283.2 L934.0 1301.2 L938.0 1303.7 L952.0 1315.6 L955.0 1317.5 L968.0 1323.0 L974.0 1324.6 L1029.0 1326.8 L1074.0 1334.8 L2017.0 1334.9 L2054.0 1340.5" fill="none" stroke="#ff0000" stroke-width="10" stroke-linejoin="round" stroke-linecap="round"/><path d="M297.0 1335.0 L313.0 1303.9 L316.0 1296.7 L318.0 1290.8 L319.0 1287.1 L320.0 1282.3 L325.0 1250.6 L328.0 1236.6 L334.0 1212.2 L343.0 1168.0 L350.0 1138.8 L357.0 1114.3 L359.0 1108.5 L361.0 1103.9 L366.0 1095.2 L368.0 1091.0 L380.0 1056.7 L385.0 1045.8 L402.0 1015.1 L427.0 965.8 L430.0 960.8 L434.0 955.6 L438.0 951.6 L447.0 945.3 L451.0 943.3 L454.0 942.4 L465.0 943.0 L468.0 943.6 L473.0 945.8 L479.0 949.4 L483.0 952.9 L511.0 981.1 L521.0 993.0 L524.0 995.8 L527.0 998.2 L529.0 1000.3 L531.0 1003.3 L534.0 1009.3 L542.0 1028.0 L558.0 1054.6 L576.0 1089.4 L596.0 1120.1 L616.0 1157.2 L632.0 1180.9 L641.0 1191.9 L674.0 1222.4 L680.0 1226.8 L696.0 1235.5 L705.5 1239.0" fill="none" stroke="#ff0000" stroke-width="12" stroke-linejoin="round" stroke-linecap="butt"/>
<path d="M270.0 1334.5 L291.0 1334.5 L292.0 1333.9 L293.0 1332.3 L297.0 1322.1 L298.0 1320.0 L304.0 1310.7 L307.0 1306.8 L311.0 1303.1 L313.0 1300.7 L314.0 1299.0 L315.0 1296.5 L316.0 1292.9 L318.0 1283.6 L319.0 1278.1 L322.0 1255.5 L326.0 1230.0 L329.0 1208.3 L338.0 1157.6 L344.0 1129.9 L353.0 1094.9 L358.0 1079.8 L364.0 1064.9 L374.0 1044.5 L385.0 1024.5 L409.0 973.7 L422.0 951.2 L426.0 945.5 L429.0 942.0 L437.0 934.3 L440.0 932.2 L442.0 931.3 L444.0 931.0 L456.0 932.0 L458.0 932.5 L473.0 941.4 L484.0 950.0 L491.0 956.7 L509.0 978.2 L516.0 988.7 L523.0 1001.1 L535.0 1028.1 L551.0 1055.7 L566.0 1085.7 L572.0 1095.5 L587.0 1115.9 L591.0 1122.3 L608.0 1157.0 L621.0 1177.8 L629.0 1188.3 L642.0 1201.5 L674.0 1229.7 L680.0 1233.8 L698.0 1242.3 L746.0 1256.7 L776.0 1259.4 L781.0 1260.8 L795.0 1268.2 L798.0 1270.6 L808.0 1281.4 L810.0 1283.1 L812.0 1284.4 L830.0 1288.1 L842.0 1288.8 L861.0 1286.0 L886.0 1286.0 L890.0 1286.8 L927.0 1304.3 L943.0 1315.5 L951.0 1322.2 L953.0 1323.4 L955.0 1324.3 L1033.0 1327.9 L1076.0 1334.4 L2042.0 1335.5" fill="none" stroke="#800000" stroke-width="10" stroke-linejoin="round" stroke-linecap="round"/><path d="M291.0 1334.5 L296.0 1323.7 L301.0 1315.1 L306.0 1308.0 L308.0 1305.8 L311.0 1303.1 L313.0 1300.7 L314.0 1299.0 L315.0 1296.5 L316.0 1292.9 L318.0 1283.6 L319.0 1278.1 L322.0 1255.5 L326.0 1230.0 L329.0 1208.3 L338.0 1157.6 L344.0 1129.9 L353.0 1094.9 L358.0 1079.8 L364.0 1064.9 L374.0 1044.5 L385.0 1024.5 L409.0 973.7 L422.0 951.2 L426.0 945.5 L429.0 942.0 L437.0 934.3 L440.0 932.2 L442.0 931.3 L444.0 931.0 L456.0 932.0 L458.0 932.5 L473.0 941.4 L484.0 950.0 L491.0 956.7 L509.0 978.2 L516.0 988.7 L523.0 1001.1 L535.0 1028.1 L551.0 1055.7 L566.0 1085.7 L572.0 1095.5 L587.0 1115.9 L591.0 1122.3 L608.0 1157.0 L621.0 1177.8 L629.0 1188.3 L642.0 1201.5 L674.0 1229.7 L680.0 1233.8 L695.0 1241.5 L705.5 1245.0" fill="none" stroke="#800000" stroke-width="11.5" stroke-linejoin="round" stroke-linecap="butt"/>
<path d="M270.0 1334.5 L291.0 1334.5 L292.0 1333.9 L293.0 1332.3 L297.0 1322.1 L298.0 1320.0 L304.0 1310.7 L307.0 1306.8 L311.0 1303.1 L313.0 1300.7 L314.0 1299.0 L315.0 1296.5 L316.0 1292.9 L318.0 1283.6 L319.0 1278.1 L322.0 1255.5 L326.0 1230.0 L329.0 1208.3 L338.0 1157.6 L344.0 1129.9 L353.0 1094.9 L358.0 1079.8 L364.0 1064.9 L374.0 1044.5 L385.0 1024.5 L409.0 973.7 L422.0 951.2 L426.0 945.5 L429.0 942.0 L437.0 934.3 L440.0 932.2 L442.0 931.3 L444.0 931.0 L456.0 932.0 L458.0 932.5 L473.0 941.4 L484.0 950.0 L491.0 956.7 L509.0 978.2 L516.0 988.7 L523.0 1001.1 L535.0 1028.1 L551.0 1055.7 L566.0 1085.7 L572.0 1095.5 L587.0 1115.9 L591.0 1122.3 L608.0 1157.0 L621.0 1177.8 L629.0 1188.3 L642.0 1201.5 L674.0 1229.7 L680.0 1233.8 L698.0 1242.3 L746.0 1256.7 L776.0 1259.4 L781.0 1260.8 L795.0 1268.2 L798.0 1270.6 L808.0 1281.4 L810.0 1283.1 L812.0 1284.4 L830.0 1288.1 L842.0 1288.8 L861.0 1286.0 L886.0 1286.0 L890.0 1286.8 L927.0 1304.3 L943.0 1315.5 L951.0 1322.2 L953.0 1323.4 L955.0 1324.3 L1033.0 1327.9 L1076.0 1334.4 L2042.0 1335.5 C2052 1335.5 2059 1337 2060 1346" fill="none" stroke="#808000" stroke-width="10" stroke-linejoin="round" stroke-linecap="round"/><path d="M291.0 1334.5 L296.0 1323.7 L301.0 1315.1 L306.0 1308.0 L308.0 1305.8 L311.0 1303.1 L313.0 1300.7 L314.0 1299.0 L315.0 1296.5 L316.0 1292.9 L318.0 1283.6 L319.0 1278.1 L322.0 1255.5 L326.0 1230.0 L329.0 1208.3 L338.0 1157.6 L344.0 1129.9 L353.0 1094.9 L358.0 1079.8 L364.0 1064.9 L374.0 1044.5 L385.0 1024.5 L409.0 973.7 L422.0 951.2 L426.0 945.5 L429.0 942.0 L437.0 934.3 L440.0 932.2 L442.0 931.3 L444.0 931.0 L456.0 932.0 L458.0 932.5 L473.0 941.4 L484.0 950.0 L491.0 956.7 L509.0 978.2 L516.0 988.7 L523.0 1001.1 L535.0 1028.1 L551.0 1055.7 L566.0 1085.7 L572.0 1095.5 L587.0 1115.9 L591.0 1122.3 L608.0 1157.0 L621.0 1177.8 L629.0 1188.3 L642.0 1201.5 L674.0 1229.7 L680.0 1233.8 L695.0 1241.5 L705.5 1245.0" fill="none" stroke="#808000" stroke-width="11.5" stroke-linejoin="round" stroke-linecap="butt"/>
<path d="M270.0 1334.3 L292.0 1334.3 L293.0 1333.7 L294.0 1332.2 L298.0 1322.1 L299.0 1320.0 L305.0 1310.7 L308.0 1306.8 L312.0 1303.1 L314.0 1300.7 L315.0 1299.0 L316.0 1296.5 L317.0 1292.9 L319.0 1283.6 L320.0 1278.1 L323.0 1255.5 L327.0 1230.0 L330.0 1208.3 L339.0 1157.6 L345.0 1129.9 L354.0 1094.9 L359.0 1079.8 L365.0 1064.9 L375.0 1044.5 L386.0 1024.5 L410.0 973.7 L423.0 951.3 L428.0 944.3 L436.0 936.2 L440.0 933.0 L443.0 931.3 L452.0 928.7 L457.0 928.0 L460.0 928.1 L469.0 930.6 L474.0 933.0 L490.0 944.0 L505.0 957.2 L514.0 967.1 L523.0 979.3 L622.0 1153.8 L641.0 1180.2 L665.0 1206.5 L676.0 1216.1 L691.0 1225.5 L715.0 1235.3 L742.0 1241.3 L777.0 1244.7 L785.0 1246.8 L795.0 1251.2 L797.0 1252.6 L807.0 1263.1 L815.0 1270.3 L817.0 1271.6 L819.0 1272.4 L839.0 1272.3 L841.0 1271.9 L844.0 1270.8 L854.0 1265.1 L865.0 1261.5 L869.0 1260.8 L890.0 1260.8 L895.0 1261.7 L908.0 1266.7 L929.0 1280.9 L934.0 1285.4 L936.0 1287.7 L944.0 1300.2 L951.0 1309.6 L953.0 1311.8 L955.0 1313.4 L964.0 1316.7 L975.0 1318.7 L1045.0 1322.6 L1057.0 1325.0 L1086.0 1332.4 L2045.0 1334.3 C2055 1334.5 2062 1337 2062.5 1347" fill="none" stroke="#008000" stroke-width="10" stroke-linejoin="round" stroke-linecap="round"/><path d="M292.0 1334.3 L297.0 1323.7 L302.0 1315.1 L307.0 1308.0 L309.0 1305.8 L312.0 1303.1 L314.0 1300.7 L315.0 1299.0 L316.0 1296.5 L317.0 1292.9 L319.0 1283.6 L320.0 1278.1 L323.0 1255.5 L327.0 1230.0 L330.0 1208.3 L339.0 1157.6 L345.0 1129.9 L354.0 1094.9 L359.0 1079.8 L365.0 1064.9 L375.0 1044.5 L386.0 1024.5 L410.0 973.7 L423.0 951.3 L428.0 944.3 L436.0 936.2 L440.0 933.0 L443.0 931.3 L452.0 928.7 L457.0 928.0 L460.0 928.1 L469.0 930.6 L474.0 933.0 L490.0 944.0 L505.0 957.2 L514.0 967.1 L523.0 979.3 L622.0 1153.8 L641.0 1180.2 L665.0 1206.5 L676.0 1216.1 L692.0 1226.2 L703.0 1231.2 L705.5 1232.0" fill="none" stroke="#008000" stroke-width="12" stroke-linejoin="round" stroke-linecap="butt"/>
<text transform="translate(1164.5 1550.2) scale(1 1.035)" text-anchor="middle" class="ax">Wavelength (nm)</text>
<text transform="translate(83.0 702.3) rotate(-90) scale(1 1.035)" text-anchor="middle" class="ax" style="font-size:60.4px">Transmittance (%)</text>
<line x1="1526" y1="220.2" x2="1660" y2="220.2" stroke="#ff0000" stroke-width="10" stroke-linecap="round"/>
<text transform="translate(1693.0 239.4) scale(1 1.035)" class="lg">pH 2</text>
<line x1="1526" y1="297.0" x2="1660" y2="297.0" stroke="#800000" stroke-width="10" stroke-linecap="round"/>
<text transform="translate(1693.0 316.2) scale(1 1.035)" class="lg">pH 3</text>
<line x1="1526" y1="373.8" x2="1660" y2="373.8" stroke="#808000" stroke-width="10" stroke-linecap="round"/>
<text transform="translate(1693.0 393.0) scale(1 1.035)" class="lg">pH 4</text>
<line x1="1526" y1="450.6" x2="1660" y2="450.6" stroke="#008000" stroke-width="10" stroke-linecap="round"/>
<text transform="translate(1693.0 469.8) scale(1 1.035)" class="lg">pH 5</text>
<rect x="1530" y="919.8" width="347.6" height="270.8" fill="#fbfbfb"/>
<rect x="1582.2" y="975" width="126.7" height="33.2" fill="#bb4aa8"/>
<rect x="1582" y="1045.6" width="128" height="37.6" fill="#d5d5d0"/>
<rect x="1582.5" y="1050.1" width="126.5" height="29.5" fill="#4848ff"/>
<rect x="1580.2" y="1118.4" width="130" height="38.4" rx="3.5" fill="#283535"/>
<rect x="1582.3" y="1121.7" width="125.9" height="31" fill="#ff4a4a"/>
<text transform="translate(1740.0 1011.2) scale(1 1.035)" class="lg2">UV</text>
<text transform="translate(1740.0 1083.3) scale(1 1.035)" class="lg2">Vis</text>
<text transform="translate(1740.0 1156.4) scale(1 1.035)" class="lg2">NIR</text>
</svg>
</body></html>
